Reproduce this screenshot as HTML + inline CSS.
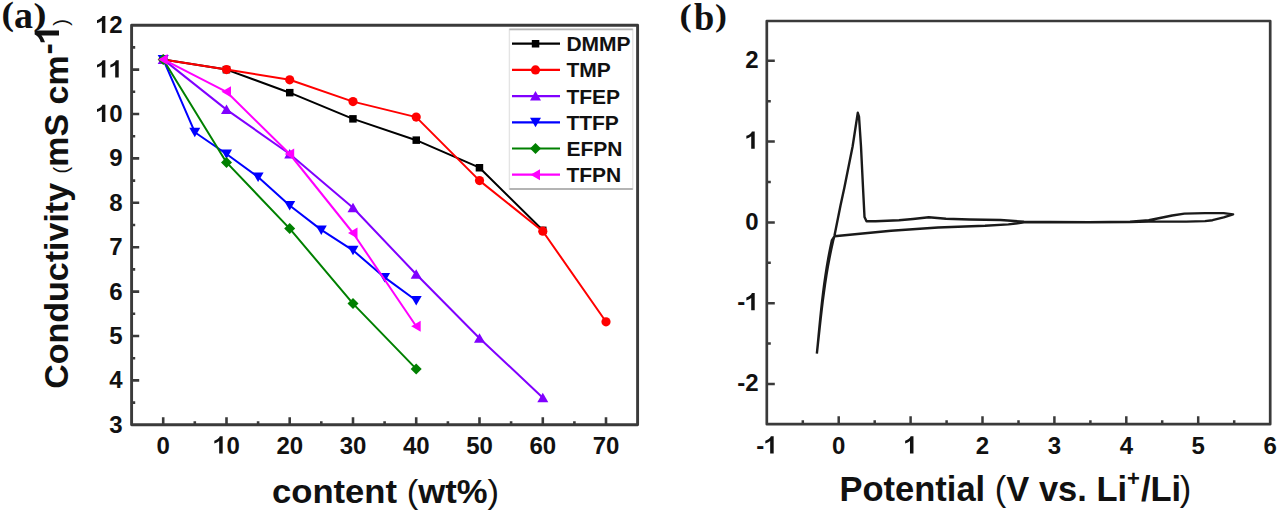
<!DOCTYPE html>
<html><head><meta charset="utf-8"><style>html,body{margin:0;padding:0;background:#fff;width:1280px;height:512px;overflow:hidden}svg{display:block}</style></head>
<body><svg width="1280" height="512" viewBox="0 0 1280 512">
<rect width="1280" height="512" fill="#fff"/>
<rect x="131.6" y="25.2" width="506.0" height="399.6" fill="none" stroke="#3a3a3a" stroke-width="2.9" stroke-linejoin="round"/>
<path d="M163.2 424.8v-7.6 M226.5 424.8v-7.6 M289.7 424.8v-7.6 M353.0 424.8v-7.6 M416.2 424.8v-7.6 M479.5 424.8v-7.6 M542.8 424.8v-7.6 M606.0 424.8v-7.6 M194.8 424.8v-3.6 M258.1 424.8v-3.6 M321.3 424.8v-3.6 M384.6 424.8v-3.6 M447.9 424.8v-3.6 M511.1 424.8v-3.6 M574.4 424.8v-3.6 M131.6 380.4h7.6 M131.6 336.0h7.6 M131.6 291.6h7.6 M131.6 247.2h7.6 M131.6 202.8h7.6 M131.6 158.4h7.6 M131.6 114.0h7.6 M131.6 69.6h7.6 M131.6 402.6h3.6 M131.6 358.2h3.6 M131.6 313.8h3.6 M131.6 269.4h3.6 M131.6 225.0h3.6 M131.6 180.6h3.6 M131.6 136.2h3.6 M131.6 91.8h3.6 M131.6 47.4h3.6" stroke="#3a3a3a" stroke-width="2.6" fill="none"/>
<g font-family="Liberation Sans" font-weight="bold" font-size="24" fill="#111"><text x="156.53" y="453.50">0</text><path transform="translate(213.12 453.50) scale(0.02400 -0.02400)" d="M398 0L252 0L252 516C202 469 118 434 50 412L50 536C96 550 145 572 190 604C235 636 266 674 282 716L398 716Z"/><text x="226.46" y="453.50">0</text><text x="276.38" y="453.50">2</text><text x="289.72" y="453.50">0</text><text x="339.64" y="453.50">3</text><text x="352.98" y="453.50">0</text><text x="402.90" y="453.50">4</text><text x="416.24" y="453.50">0</text><text x="466.16" y="453.50">5</text><text x="479.50" y="453.50">0</text><text x="529.42" y="453.50">6</text><text x="542.76" y="453.50">0</text><text x="592.68" y="453.50">7</text><text x="606.02" y="453.50">0</text><text x="109.16" y="432.70">3</text><text x="109.16" y="388.30">4</text><text x="109.16" y="343.90">5</text><text x="109.16" y="299.50">6</text><text x="109.16" y="255.10">7</text><text x="109.16" y="210.70">8</text><text x="109.16" y="166.30">9</text><path transform="translate(95.81 121.90) scale(0.02400 -0.02400)" d="M398 0L252 0L252 516C202 469 118 434 50 412L50 536C96 550 145 572 190 604C235 636 266 674 282 716L398 716Z"/><text x="109.16" y="121.90">0</text><path transform="translate(95.81 77.50) scale(0.02400 -0.02400)" d="M398 0L252 0L252 516C202 469 118 434 50 412L50 536C96 550 145 572 190 604C235 636 266 674 282 716L398 716Z"/><path transform="translate(109.16 77.50) scale(0.02400 -0.02400)" d="M398 0L252 0L252 516C202 469 118 434 50 412L50 536C96 550 145 572 190 604C235 636 266 674 282 716L398 716Z"/><path transform="translate(95.81 33.10) scale(0.02400 -0.02400)" d="M398 0L252 0L252 516C202 469 118 434 50 412L50 536C96 550 145 572 190 604C235 636 266 674 282 716L398 716Z"/><text x="109.16" y="33.10">2</text></g>
<path d="M163.2 59.4 L226.5 69.6 L289.7 92.7 L353.0 118.9 L416.2 140.2 L479.5 167.7 L542.8 230.3" stroke="#000" stroke-width="2.0" fill="none" stroke-linejoin="round"/>
<rect x="159.4" y="55.6" width="7.5" height="7.5" fill="#000"/>
<rect x="222.7" y="65.9" width="7.5" height="7.5" fill="#000"/>
<rect x="286.0" y="88.9" width="7.5" height="7.5" fill="#000"/>
<rect x="349.2" y="115.1" width="7.5" height="7.5" fill="#000"/>
<rect x="412.5" y="136.4" width="7.5" height="7.5" fill="#000"/>
<rect x="475.7" y="164.0" width="7.5" height="7.5" fill="#000"/>
<rect x="539.0" y="226.6" width="7.5" height="7.5" fill="#000"/>
<path d="M163.2 59.4 L226.5 69.6 L289.7 79.8 L353.0 101.6 L416.2 117.1 L479.5 180.6 L542.8 231.2 L606.0 321.8" stroke="#f00" stroke-width="2.0" fill="none" stroke-linejoin="round"/>
<circle cx="163.2" cy="59.4" r="4.6" fill="#f00"/>
<circle cx="226.5" cy="69.6" r="4.6" fill="#f00"/>
<circle cx="289.7" cy="79.8" r="4.6" fill="#f00"/>
<circle cx="353.0" cy="101.6" r="4.6" fill="#f00"/>
<circle cx="416.2" cy="117.1" r="4.6" fill="#f00"/>
<circle cx="479.5" cy="180.6" r="4.6" fill="#f00"/>
<circle cx="542.8" cy="231.2" r="4.6" fill="#f00"/>
<circle cx="606.0" cy="321.8" r="4.6" fill="#f00"/>
<path d="M163.2 59.4 L226.5 109.6 L289.7 154.0 L353.0 207.7 L416.2 274.3 L479.5 338.2 L542.8 397.7" stroke="#8000ff" stroke-width="2.0" fill="none" stroke-linejoin="round"/>
<path d="M163.2 54.4L168.7 63.9L157.7 63.9Z" fill="#8000ff"/>
<path d="M226.5 104.6L232.0 114.1L221.0 114.1Z" fill="#8000ff"/>
<path d="M289.7 149.0L295.2 158.5L284.2 158.5Z" fill="#8000ff"/>
<path d="M353.0 202.7L358.5 212.2L347.5 212.2Z" fill="#8000ff"/>
<path d="M416.2 269.3L421.7 278.8L410.7 278.8Z" fill="#8000ff"/>
<path d="M479.5 333.2L485.0 342.7L474.0 342.7Z" fill="#8000ff"/>
<path d="M542.8 392.7L548.3 402.2L537.3 402.2Z" fill="#8000ff"/>
<path d="M163.2 59.4 L194.8 132.2 L226.5 154.0 L258.1 177.0 L289.7 205.5 L321.3 229.9 L353.0 250.3 L384.6 277.4 L416.2 300.5" stroke="#0000ff" stroke-width="2.0" fill="none" stroke-linejoin="round"/>
<path d="M163.2 64.4L168.7 54.9L157.7 54.9Z" fill="#0000ff"/>
<path d="M194.8 137.2L200.3 127.7L189.3 127.7Z" fill="#0000ff"/>
<path d="M226.5 159.0L232.0 149.5L221.0 149.5Z" fill="#0000ff"/>
<path d="M258.1 182.0L263.6 172.5L252.6 172.5Z" fill="#0000ff"/>
<path d="M289.7 210.5L295.2 201.0L284.2 201.0Z" fill="#0000ff"/>
<path d="M321.3 234.9L326.8 225.4L315.8 225.4Z" fill="#0000ff"/>
<path d="M353.0 255.3L358.5 245.8L347.5 245.8Z" fill="#0000ff"/>
<path d="M384.6 282.4L390.1 272.9L379.1 272.9Z" fill="#0000ff"/>
<path d="M416.2 305.5L421.7 296.0L410.7 296.0Z" fill="#0000ff"/>
<path d="M163.2 59.4 L226.5 162.4 L289.7 228.6 L353.0 303.6 L416.2 368.9" stroke="#008000" stroke-width="2.0" fill="none" stroke-linejoin="round"/>
<path d="M163.2 53.9L168.7 59.4L163.2 64.9L157.7 59.4Z" fill="#008000"/>
<path d="M226.5 156.9L232.0 162.4L226.5 167.9L221.0 162.4Z" fill="#008000"/>
<path d="M289.7 223.1L295.2 228.6L289.7 234.1L284.2 228.6Z" fill="#008000"/>
<path d="M353.0 298.1L358.5 303.6L353.0 309.1L347.5 303.6Z" fill="#008000"/>
<path d="M416.2 363.4L421.7 368.9L416.2 374.4L410.7 368.9Z" fill="#008000"/>
<path d="M163.2 59.4 L226.5 91.8 L289.7 154.0 L353.0 233.0 L416.2 326.2" stroke="#ff00ff" stroke-width="2.0" fill="none" stroke-linejoin="round"/>
<path d="M158.2 59.4L167.7 53.9L167.7 64.9Z" fill="#ff00ff"/>
<path d="M221.5 91.8L231.0 86.3L231.0 97.3Z" fill="#ff00ff"/>
<path d="M284.7 154.0L294.2 148.5L294.2 159.5Z" fill="#ff00ff"/>
<path d="M348.0 233.0L357.5 227.5L357.5 238.5Z" fill="#ff00ff"/>
<path d="M411.2 326.2L420.7 320.7L420.7 331.7Z" fill="#ff00ff"/>
<rect x="509.4" y="29.4" width="123.39999999999998" height="159.6" fill="#fff" stroke="#e4e4e4" stroke-width="1.4"/>
<path d="M509.4 29.4H632.8M509.4 189.0H632.8" stroke="#b4b4b4" stroke-width="1.8"/>
<path d="M512 43.7H560" stroke="#000" stroke-width="2.2"/>
<rect x="531.8" y="40.0" width="7.5" height="7.5" fill="#000"/>
<text x="566.4" y="51.2" font-family="Liberation Sans" font-weight="bold" font-size="21" fill="#111">DMMP</text>
<path d="M512 69.9H560" stroke="#f00" stroke-width="2.2"/>
<circle cx="535.5" cy="69.9" r="4.6" fill="#f00"/>
<text x="566.4" y="77.4" font-family="Liberation Sans" font-weight="bold" font-size="21" fill="#111">TMP</text>
<path d="M512 96.1H560" stroke="#8000ff" stroke-width="2.2"/>
<path d="M535.5 91.1L541.0 100.6L530.0 100.6Z" fill="#8000ff"/>
<text x="566.4" y="103.6" font-family="Liberation Sans" font-weight="bold" font-size="21" fill="#111">TFEP</text>
<path d="M512 122.3H560" stroke="#0000ff" stroke-width="2.2"/>
<path d="M535.5 127.3L541.0 117.8L530.0 117.8Z" fill="#0000ff"/>
<text x="566.4" y="129.8" font-family="Liberation Sans" font-weight="bold" font-size="21" fill="#111">TTFP</text>
<path d="M512 148.5H560" stroke="#008000" stroke-width="2.2"/>
<path d="M535.5 143.0L541.0 148.5L535.5 154.0L530.0 148.5Z" fill="#008000"/>
<text x="566.4" y="156.0" font-family="Liberation Sans" font-weight="bold" font-size="21" fill="#111">EFPN</text>
<path d="M512 174.7H560" stroke="#ff00ff" stroke-width="2.2"/>
<path d="M530.5 174.7L540.0 169.2L540.0 180.2Z" fill="#ff00ff"/>
<text x="566.4" y="182.2" font-family="Liberation Sans" font-weight="bold" font-size="21" fill="#111">TFPN</text>
<text x="272" y="502.8" font-family="Liberation Sans" font-weight="bold" font-size="34" fill="#111" textLength="227" lengthAdjust="spacingAndGlyphs">content <tspan font-weight="normal">(</tspan>wt%<tspan font-weight="normal">)</tspan></text>
<g transform="translate(68.4 388.8) rotate(-90)" fill="#111"><text x="0" y="0" font-family="Liberation Sans" font-weight="bold" font-size="34">Conductivity <tspan font-size="20" font-weight="normal">(</tspan>mS cm</text><text x="334.2" y="-9.2" font-family="Liberation Sans" font-weight="bold" font-size="34">-</text><path transform="translate(344.8 -9.4) scale(0.034 -0.034)" d="M398 0L252 0L252 516C202 469 118 434 50 412L50 536C96 550 145 572 190 604C235 636 266 674 282 716L398 716Z"/><text x="363" y="-0.6" font-family="Liberation Sans" font-size="20">)</text></g>
<g font-family="Liberation Serif" font-weight="bold" fill="#111"><text transform="translate(1.4 25.3) scale(1.14 1)" font-size="33">(</text><text x="14" y="28.4" font-size="38">a</text><text transform="translate(33.5 24.9) scale(1.2 1)" font-size="32.5">)</text></g>
<rect x="766.8" y="21.0" width="503.4000000000001" height="403.2" fill="none" stroke="#3a3a3a" stroke-width="2.7" stroke-linejoin="round"/>
<path d="M838.7 424.2v-8 M910.6 424.2v-8 M982.5 424.2v-8 M1054.4 424.2v-8 M1126.3 424.2v-8 M1198.2 424.2v-8 M802.8 424.2v-4 M874.7 424.2v-4 M946.6 424.2v-4 M1018.5 424.2v-4 M1090.4 424.2v-4 M1162.2 424.2v-4 M1234.2 424.2v-4 M766.8 384.0h8 M766.8 303.2h8 M766.8 222.4h8 M766.8 141.6h8 M766.8 60.8h8 M766.8 343.6h4 M766.8 262.8h4 M766.8 182.0h4 M766.8 101.2h4" stroke="#3a3a3a" stroke-width="2.5" fill="none"/>
<g font-family="Liberation Sans" font-weight="bold" font-size="24" fill="#111"><text x="756.13" y="453.50">-</text><path transform="translate(764.12 453.50) scale(0.02400 -0.02400)" d="M398 0L252 0L252 516C202 469 118 434 50 412L50 536C96 550 145 572 190 604C235 636 266 674 282 716L398 716Z"/><text x="832.03" y="453.50">0</text><path transform="translate(903.93 453.50) scale(0.02400 -0.02400)" d="M398 0L252 0L252 516C202 469 118 434 50 412L50 536C96 550 145 572 190 604C235 636 266 674 282 716L398 716Z"/><text x="975.83" y="453.50">2</text><text x="1047.73" y="453.50">3</text><text x="1119.63" y="453.50">4</text><text x="1191.53" y="453.50">5</text><text x="1263.43" y="453.50">6</text><text x="737.16" y="391.10">-</text><text x="745.16" y="391.10">2</text><text x="737.16" y="310.30">-</text><path transform="translate(745.16 310.30) scale(0.02400 -0.02400)" d="M398 0L252 0L252 516C202 469 118 434 50 412L50 536C96 550 145 572 190 604C235 636 266 674 282 716L398 716Z"/><text x="745.16" y="229.50">0</text><path transform="translate(745.16 148.70) scale(0.02400 -0.02400)" d="M398 0L252 0L252 516C202 469 118 434 50 412L50 536C96 550 145 572 190 604C235 636 266 674 282 716L398 716Z"/><text x="745.16" y="67.90">2</text></g>
<path d="M816.86 353.70 L817.80 344.99 L818.73 336.28 L819.67 327.58 L820.63 318.87 L821.64 310.16 L822.70 301.45 L823.84 292.75 L825.06 284.04 L826.40 275.33 L827.86 266.62 L829.47 257.92 L831.24 249.21 L833.18 240.50 L834.40 236.10 L840.50 205.50 L844.40 187.50 L852.60 146.50 L857.80 112.80 L859.00 116.50 L861.00 146.50 L863.00 187.50 L864.50 217.00 L866.50 221.30 L875.60 221.30 L899.00 220.20 L913.00 219.00 L928.75 217.30 L946.00 218.70 L969.40 219.50 L1000.60 220.00 L1024.00 221.70 L1050.00 221.90 L1089.00 222.10 L1130.00 221.60 L1148.75 220.30 L1160.00 218.00 L1172.20 215.50 L1184.40 213.60 L1205.00 213.15 L1223.70 213.15 L1233.10 214.40 L1223.70 217.40 L1212.50 220.20 L1205.00 221.10 L1186.20 221.60 L1162.80 221.60 L1148.75 221.50 L1130.00 222.10 L1089.00 222.40 L1050.00 222.30 L1024.00 222.40 L1008.40 224.40 L985.00 225.80 L938.00 227.50 L891.00 230.70 L860.00 233.80 L834.40 236.30 L831.82 240.50 L829.99 249.21 L828.32 257.92 L826.82 266.62 L825.46 275.33 L824.23 284.04 L823.11 292.75 L822.07 301.45 L821.12 310.16 L820.22 318.87 L819.36 327.58 L818.53 336.28 L817.70 344.99 L816.86 353.70" stroke="#1a1a1a" stroke-width="2.4" fill="none" stroke-linejoin="round"/>
<text x="839.5" y="500.5" font-family="Liberation Sans" font-weight="bold" font-size="34.5" fill="#111">Potential <tspan font-weight="normal">(</tspan>V vs. Li<tspan dy="-15" font-size="22">+</tspan><tspan dy="15" dx="1">/Li</tspan><tspan font-weight="normal" dx="-1.5">)</tspan></text>
<g font-family="Liberation Serif" font-weight="bold" fill="#111"><text transform="translate(679.5 26.1) scale(1.15 1)" font-size="32">(</text><text transform="translate(693.9 29.6) scale(0.96 1)" font-size="38">b</text><text transform="translate(715 26.1) scale(1.12 1)" font-size="32">)</text></g>
</svg></body></html>
